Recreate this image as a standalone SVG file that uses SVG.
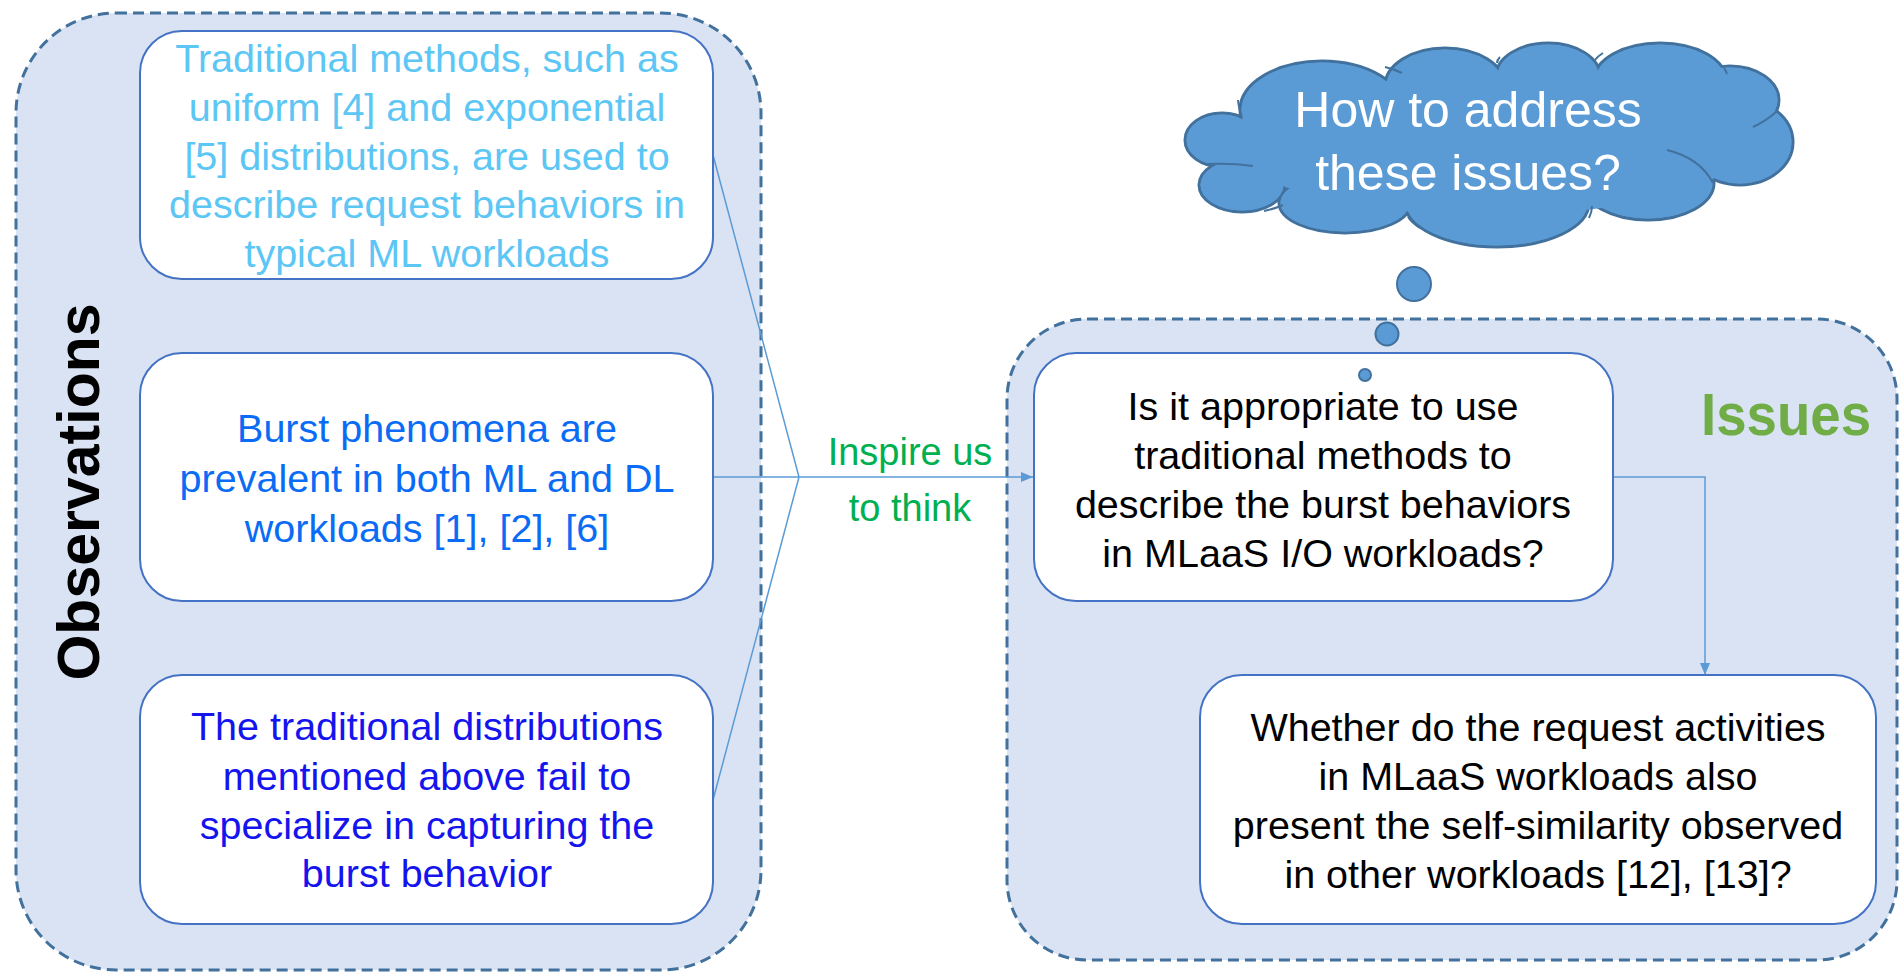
<svg xmlns="http://www.w3.org/2000/svg" width="1901" height="974" viewBox="0 0 1901 974">
<defs>
<marker id="arr" viewBox="0 0 12 10" refX="12" refY="5" markerWidth="12" markerHeight="10" markerUnits="userSpaceOnUse" orient="auto">
<path d="M0,0 L12,5 L0,10 Z" fill="#5B9BD5"/>
</marker>
</defs>
<style>
.cont{fill:#DAE3F3;stroke:#41719C;stroke-width:3;stroke-dasharray:11 6}
.box{fill:#FFFFFF;stroke:#4472C4;stroke-width:2}
.t{font-family:"Liberation Sans",Arial,sans-serif;font-size:39.5px;text-anchor:middle}
.conn{fill:none;stroke:#5B9BD5;stroke-width:1.5}
.cl{fill:#5B9BD5;stroke:#41719C;stroke-width:3}
.clf{fill:#5B9BD5;stroke:none}
.stub{fill:none;stroke:#41719C;stroke-width:2}
.dot{fill:#5B9BD5;stroke:#41719C;stroke-width:2}
</style>
<g id="observations">
<rect class="cont" x="16" y="13" width="745" height="957" rx="100" ry="100"/>
<text transform="translate(99,492) rotate(-90)" style="font-family:'Liberation Sans',Arial,sans-serif;font-size:59px;font-weight:bold;text-anchor:middle;fill:#000">Observations</text>
</g>
<g id="issues">
<rect class="cont" x="1007" y="319" width="890" height="641" rx="80" ry="80"/>
<text x="1786" y="435" style="font-family:'Liberation Sans',Arial,sans-serif;font-size:60px;font-weight:bold;text-anchor:middle;fill:#70AD47" textLength="170" lengthAdjust="spacingAndGlyphs">Issues</text>
</g>
<g id="connectors">
<line class="conn" x1="713" y1="155" x2="799" y2="477"/>
<line class="conn" x1="713" y1="800" x2="799" y2="477"/>
<line class="conn" x1="713" y1="477" x2="1033" y2="477" marker-end="url(#arr)"/>
<polyline class="conn" points="1613,477 1705,477 1705,675" marker-end="url(#arr)"/>
<text class="t" x="910" y="465" style="fill:#00B050;font-size:38px">Inspire us</text>
<text class="t" x="910" y="521" style="fill:#00B050;font-size:38px">to think</text>
</g>
<g id="obs1">
<rect class="box" x="140" y="31" width="573" height="248" rx="42" ry="42"/>
<text class="t" style="fill:#5CC6F5"><tspan x="427" y="72">Traditional methods, such as</tspan><tspan x="427" y="121">uniform [4] and exponential</tspan><tspan x="427" y="170">[5] distributions, are used to</tspan><tspan x="427" y="218">describe request behaviors in</tspan><tspan x="427" y="267">typical ML workloads</tspan></text>
</g>
<g id="obs2">
<rect class="box" x="140" y="353" width="573" height="248" rx="42" ry="42"/>
<text class="t" style="fill:#0A6CF5"><tspan x="427" y="442">Burst phenomena are</tspan><tspan x="427" y="492">prevalent in both ML and DL</tspan><tspan x="427" y="542">workloads [1], [2], [6]</tspan></text>
</g>
<g id="obs3">
<rect class="box" x="140" y="675" width="573" height="249" rx="42" ry="42"/>
<text class="t" style="fill:#1414EE"><tspan x="427" y="740">The traditional distributions</tspan><tspan x="427" y="790">mentioned above fail to</tspan><tspan x="427" y="839">specialize in capturing the</tspan><tspan x="427" y="887">burst behavior</tspan></text>
</g>
<g id="issue1">
<rect class="box" x="1034" y="353" width="579" height="248" rx="42" ry="42"/>
<text class="t" style="fill:#000"><tspan x="1323" y="420">Is it appropriate to use</tspan><tspan x="1323" y="469">traditional methods to</tspan><tspan x="1323" y="518">describe the burst behaviors</tspan><tspan x="1323" y="567">in MLaaS I/O workloads?</tspan></text>
</g>
<g id="issue2">
<rect class="box" x="1200" y="675" width="676" height="249" rx="42" ry="42"/>
<text class="t" style="fill:#000"><tspan x="1538" y="741">Whether do the request activities</tspan><tspan x="1538" y="790">in MLaaS workloads also</tspan><tspan x="1538" y="839">present the self-similarity observed</tspan><tspan x="1538" y="888">in other workloads [12], [13]?</tspan></text>
</g>
<g id="cloud">
<g class="cl">
<ellipse cx="1222" cy="140" rx="37" ry="27"/>
<ellipse cx="1242" cy="185" rx="43" ry="27"/>
<ellipse cx="1345" cy="203" rx="66" ry="30"/>
<ellipse cx="1497" cy="203" rx="92" ry="44"/>
<ellipse cx="1648" cy="183" rx="66" ry="37"/>
<ellipse cx="1740" cy="142" rx="53" ry="43"/>
<ellipse cx="1730" cy="100" rx="49" ry="34"/>
<ellipse cx="1660" cy="80" rx="66" ry="37"/>
<ellipse cx="1548" cy="76" rx="52" ry="33"/>
<ellipse cx="1445" cy="86" rx="60" ry="38"/>
<ellipse cx="1322" cy="110" rx="82" ry="49"/>
</g>
<g class="clf">
<ellipse cx="1222" cy="140" rx="35.5" ry="25.5"/>
<ellipse cx="1242" cy="185" rx="41.5" ry="25.5"/>
<ellipse cx="1345" cy="203" rx="64.5" ry="28.5"/>
<ellipse cx="1497" cy="203" rx="90.5" ry="42.5"/>
<ellipse cx="1648" cy="183" rx="64.5" ry="35.5"/>
<ellipse cx="1740" cy="142" rx="51.5" ry="41.5"/>
<ellipse cx="1730" cy="100" rx="47.5" ry="32.5"/>
<ellipse cx="1660" cy="80" rx="64.5" ry="35.5"/>
<ellipse cx="1548" cy="76" rx="50.5" ry="31.5"/>
<ellipse cx="1445" cy="86" rx="58.5" ry="36.5"/>
<ellipse cx="1322" cy="110" rx="80.5" ry="47.5"/>
<ellipse cx="1490" cy="145" rx="255" ry="70"/>
</g>
<path class="stub" d="M1238,100 Q1239,110 1242,117 M1207,164 Q1232,163 1253,166 M1264,211 Q1274,209 1283,205 M1408,217 Q1412,223 1420,228 M1592,206 Q1592,212 1589,218 M1667,150 Q1700,158 1713,183 M1753,127 Q1766,121 1776,112 M1724,68 Q1726,71 1727,74 M1595,60 Q1598,56 1603,53 M1497,63 Q1497,60 1500,57 M1385,67 Q1394,69 1402,73"/>
<text class="t" x="1468" y="127" style="fill:#FFFFFF;font-size:50px">How to address</text>
<text class="t" x="1468" y="190" style="fill:#FFFFFF;font-size:50px">these issues?</text>
</g>
<g id="bubbles">
<circle class="dot" cx="1414" cy="284" r="17"/>
<circle class="dot" cx="1387" cy="334" r="11.5"/>
<circle class="dot" cx="1365" cy="375" r="6"/>
</g>
</svg>
